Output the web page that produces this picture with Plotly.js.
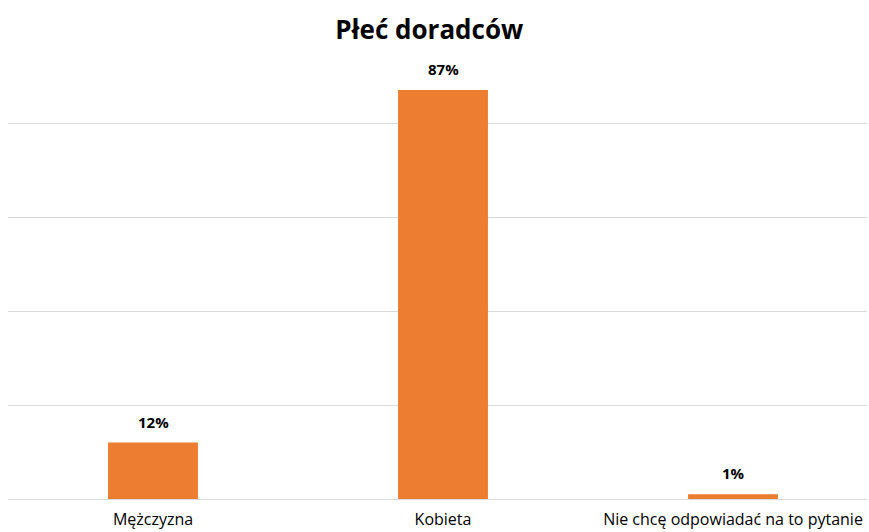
<!DOCTYPE html>
<html><head><meta charset="utf-8">
<script src="https://cdn.plot.ly/plotly-3.0.1.min.js"></script>
<style>html,body{margin:0;padding:0;background:#fff}#chart{width:869px;height:532px}</style>
</head><body><div id="chart"></div>
<script>
const categories = ["Mężczyzna", "Kobieta", "Nie chcę odpowiadać na to pytanie"];
const values = [0.12, 0.87, 0.01];
const valueLabels = ["12%", "87%", "1%"];
const chartTitle = "Płeć doradców";

const FONT = "'Open Sans', sans-serif";
Plotly.newPlot('chart', [{
  type: 'bar', x: categories, y: values,
  marker: {color: '#ED7D31'},
  hoverinfo: 'skip'
}], {
  width: 869, height: 532,
  margin: {l: 8, r: 2, t: 76, b: 33},
  paper_bgcolor: '#fff', plot_bgcolor: '#fff',
  bargap: 0.69,
  title: {text: '<b>' + chartTitle + '</b>', x: 0.494, xanchor: 'center', y: 0.943, yanchor: 'middle',
          font: {family: FONT, size: 26, color: '#000'}},
  xaxis: {type: 'category', range: [-0.5, 2.462],
          tickfont: {family: FONT, size: 16, color: '#000'}, showline: true, linecolor: '#d9d9d9',
          ticks: '', showgrid: false, ticklabelstandoff: 6},
  yaxis: {range: [0, 0.9], dtick: 0.2, showticklabels: false, gridcolor: '#d9d9d9', gridwidth: 1,
          zeroline: true, zerolinecolor: '#d9d9d9', ticks: ''},
  annotations: categories.map((c, i) => ({
    x: c, y: values[i], xref: 'x', yref: 'y', text: '<b>' + valueLabels[i] + '</b>',
    showarrow: false, yanchor: 'middle', yshift: 21,
    font: {family: FONT, size: 15, color: '#000'}
  })),
  showlegend: false
}, {displayModeBar: false, staticPlot: true});
</script></body></html>
